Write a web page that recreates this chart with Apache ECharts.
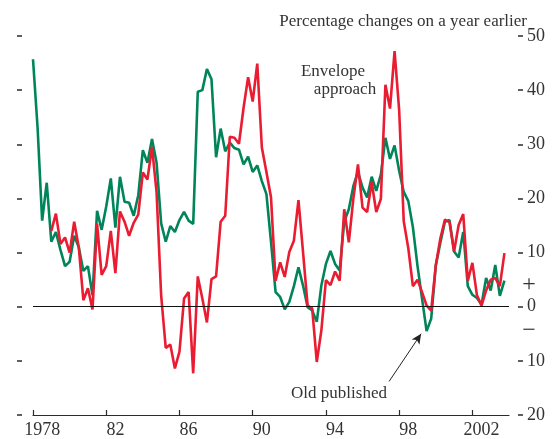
<!DOCTYPE html>
<html>
<head>
<meta charset="utf-8">
<script src="https://cdn.jsdelivr.net/npm/echarts@6.0.0/dist/echarts.min.js"></script>
<style>
  html, body { margin: 0; background: #fff; }
  #chart { width: 555px; height: 439px; }
</style>
</head>
<body>
<div id="chart"></div>
<script>
// Quarterly % changes on a year earlier.
const oldStart = 1978;        // first quarter of the green series
const envelopeStart = 1979;   // first quarter of the red series

const oldPublished = [
  45.7, 33.1, 15.9, 22.9,   // 1978
  12.0, 13.8, 10.5, 7.5,    // 1979
  8.3, 13.1, 11.0, 6.6,     // 1980
  7.5, 2.1, 17.7, 14.2,     // 1981
  18.5, 23.7, 14.6, 24.0,   // 1982
  19.4, 19.2, 16.8, 20.6,   // 1983
  28.9, 26.6, 31.0, 26.6,   // 1984
  15.4, 12.0, 14.9, 13.8,   // 1985
  16.0, 17.5, 15.9, 15.3,   // 1986
  39.7, 40.0, 43.9, 42.0,   // 1987
  27.6, 32.9, 28.7, 30.3,   // 1988
  29.3, 29.0, 26.3, 27.7,   // 1989
  24.9, 26.1, 23.2, 20.8,   // 1990
  12.0, 2.7, 1.8, -0.5,     // 1991
  0.9, 3.8, 7.3, 3.9,       // 1992
  -0.1, -0.7, -2.8, 3.9,    // 1993
  7.9, 10.3, 7.9, 6.7,      // 1994
  15.7, 18.0, 22.3, 24.9,   // 1995
  22.0, 20.2, 24.0, 21.4,   // 1996
  24.4, 31.2, 27.3, 29.8,   // 1997
  25.1, 21.2, 19.5, 14.7,   // 1998
  7.6, 1.5, -4.5, -2.2,     // 1999
  7.6, 11.8, 15.7, 16.0,    // 2000
  10.2, 9.1, 13.8, 3.8,     // 2001
  2.2, 1.6, 0.4, 5.3,       // 2002
  3.0, 7.7, 2.0, 4.8        // 2003
];

const envelope = [
  14.0, 17.2, 11.6, 12.8,   // 1979
  10.0, 15.7, 11.0, 1.2,    // 1980
  3.4, -0.5, 15.3, 5.9,     // 1981
  7.5, 14.0, 6.2, 17.6,     // 1982
  15.7, 13.1, 15.5, 17.0,   // 1983
  24.8, 23.5, 29.5, 21.1,   // 1984
  2.1, -7.6, -7.0, -11.4,   // 1985
  -8.3, 1.5, 2.7, -12.3,    // 1986
  5.6, 1.5, -2.9, 5.1,      // 1987
  5.6, 15.7, 16.8, 31.4,    // 1988
  31.2, 30.1, 36.7, 42.4,   // 1989
  37.9, 44.9, 29.4, 24.9,   // 1990
  20.2, 4.8, 8.2, 5.5,      // 1991
  10.1, 12.2, 19.7, 10.1,   // 1992
  0.2, -0.3, -10.2, -4.4,   // 1993
  4.9, 4.0, 6.5, 4.8,       // 1994
  18.0, 11.9, 20.0, 26.3,   // 1995
  18.3, 17.5, 23.0, 17.5,   // 1996
  19.9, 41.0, 36.6, 47.2,   // 1997
  36.3, 15.8, 10.8, 3.8,    // 1998
  5.0, 2.7, 0.2, -0.7,      // 1999
  7.6, 12.6, 16.1, 15.6,    // 2000
  10.2, 15.1, 17.1, 4.8,    // 2001
  8.1, 2.1, 0.2, 3.0,       // 2002
  5.0, 5.3, 3.8, 9.9        // 2003
];

const yearTicks = [1978, 1982, 1986, 1990, 1994, 1998, 2002];
// labels sit in the middle of their year, ticks at its start
const yearLabelAt = yearTicks.map(y => y + 0.5);
const yearLabel = v => {
  const y = Math.floor(v);
  return (y === 1978 || y === 2002) ? String(y) : String(y % 100);
};

// arrow from the "Old published" label to the 1999 trough, in data units
const arrowFrom = [1997.45, -13.8];
const arrowTo = [1999.2, -5.0];

const GREEN = "#00855a";
const RED = "#ea1c32";
const INK = "#2b2b2b";
const FONT = "Liberation Serif";

const toPairs = (start, values) => values.map((v, i) => [start + i / 4, v]);

const chart = echarts.init(document.getElementById("chart"), null, { renderer: "canvas" });

const tickOnly = {
  type: "value", min: -20, max: 50, interval: 10,
  axisLine: { show: false },
  axisTick: { show: true, length: 5, lineStyle: { color: INK, width: 1.5 } },
  splitLine: { show: false },
};

chart.setOption({
  animation: false,
  backgroundColor: "#fff",
  textStyle: { fontFamily: FONT },
  grid: { left: 33, right: 46, top: 36, bottom: 22 },
  xAxis: {
    type: "value", min: 1978, max: 2004,
    axisLine: { show: true, onZero: false, lineStyle: { color: INK, width: 1.2 } },
    axisTick: { show: true, inside: true, length: 5, customValues: yearTicks,
                lineStyle: { color: INK, width: 1.2 } },
    axisLabel: { customValues: yearLabelAt, formatter: yearLabel, color: "#333",
                 fontFamily: FONT, fontSize: 18, margin: 6 },
    splitLine: { show: false },
  },
  yAxis: [
    { ...tickOnly, position: "right", offset: 9,
      axisLabel: { show: true, formatter: v => String(Math.abs(v)), color: "#333",
                   fontFamily: FONT, fontSize: 18, margin: 9 } },
    { ...tickOnly, position: "left", offset: 11, axisLabel: { show: false } },
  ],
  series: [
    {
      name: "Old published", type: "line", yAxisIndex: 0,
      data: toPairs(oldStart, oldPublished),
      showSymbol: false, symbol: "none",
      lineStyle: { color: GREEN, width: 2.6 }, itemStyle: { color: GREEN },
      markLine: {
        silent: true, symbol: ["none", "arrow"], symbolSize: [7, 10],
        label: { show: false },
        lineStyle: { color: "#222", width: 1, type: "solid" },
        data: [[{ coord: arrowFrom }, { coord: arrowTo }]],
      },
    },
    {
      name: "Envelope approach", type: "line", yAxisIndex: 0,
      data: toPairs(envelopeStart, envelope),
      showSymbol: false, symbol: "none",
      lineStyle: { color: RED, width: 2.6 }, itemStyle: { color: RED },
      markLine: {
        silent: true, symbol: "none", label: { show: false },
        lineStyle: { color: "#111", width: 1, type: "solid" },
        data: [{ yAxis: 0 }],
      },
    },
  ],
  graphic: [
    { type: "text", style: { text: "Percentage changes on a year earlier", x: 527, y: 22,
      align: "right", verticalAlign: "middle", fill: "#333", font: `17px "${FONT}"` } },
    { type: "text", style: { text: "Envelope", x: 333, y: 72, align: "center",
      verticalAlign: "middle", fill: "#333", font: `17px "${FONT}"` } },
    { type: "text", style: { text: "approach", x: 345, y: 90, align: "center",
      verticalAlign: "middle", fill: "#333", font: `17px "${FONT}"` } },
    { type: "text", style: { text: "Old published", x: 339, y: 394, align: "center",
      verticalAlign: "middle", fill: "#333", font: `17px "${FONT}"` } },
    { type: "text", style: { text: "+", x: 529, y: 285, align: "center",
      verticalAlign: "middle", fill: "#333", font: `24px "${FONT}"` } },
    { type: "text", style: { text: "\u2212", x: 529, y: 331, align: "center",
      verticalAlign: "middle", fill: "#333", font: `24px "${FONT}"` } },
  ],
});
</script>
</body>
</html>
